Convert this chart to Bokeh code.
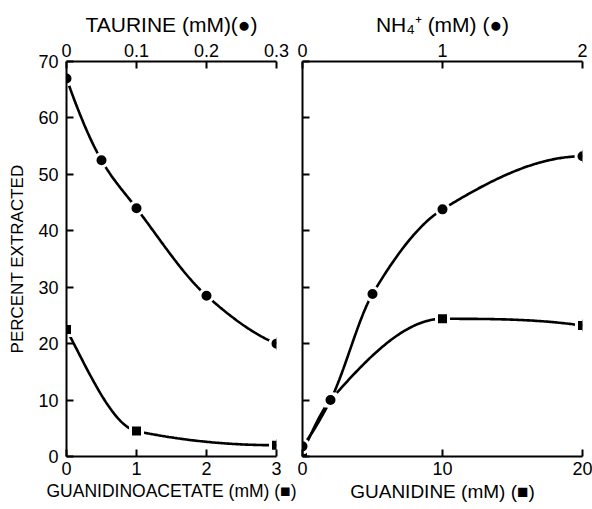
import numpy as np
from bokeh.plotting import figure
from bokeh.models import Range1d, LinearAxis, FixedTicker, PrintfTickFormatter, CustomJSTickFormatter
from bokeh.layouts import row
from bokeh.embed import file_html
from bokeh.resources import INLINE

# ---------------- data ----------------
# Left panel: taurine (top axis, circles) and guanidinoacetate (bottom axis, squares)
taurine_mM = [0, 0.05, 0.1, 0.2, 0.3]
taurine_pct = [67, 52.5, 44, 28.5, 20]
gaa_mM = [0, 1, 3]
gaa_pct = [22.5, 4.5, 2]

# Right panel: NH4+ (top axis, circles) and guanidine (bottom axis, squares)
nh4_mM = [0, 0.2, 0.5, 1, 2]
nh4_pct = [1.8, 10, 28.8, 43.8, 53.2]
guan_mM = [0, 2, 10, 20]
guan_pct = [0.8, 10, 24.4, 23.2]

y_ticks = [0, 10, 20, 30, 40, 50, 60, 70]
left_bottom_ticks = [0, 1, 2, 3]
left_top_ticks = [0, 0.1, 0.2, 0.3]
right_bottom_ticks = [0, 10, 20]
right_top_ticks = [0, 1, 2]

FONT = "Liberation Sans"


def pchip(x, y, n=200):
    """Smooth monotone curve through the data points (for drawing the fitted line)."""
    x = np.asarray(x, float)
    y = np.asarray(y, float)
    h = np.diff(x)
    d = np.diff(y) / h
    m = np.zeros_like(x)
    for k in range(1, len(x) - 1):
        if d[k - 1] * d[k] > 0:
            w1 = 2 * h[k] + h[k - 1]
            w2 = h[k] + 2 * h[k - 1]
            m[k] = (w1 + w2) / (w1 / d[k - 1] + w2 / d[k])

    def end(h0, h1, d0, d1):
        s = ((2 * h0 + h1) * d0 - h0 * d1) / (h0 + h1)
        if np.sign(s) != np.sign(d0):
            s = 0.0
        elif np.sign(d0) != np.sign(d1) and abs(s) > abs(3 * d0):
            s = 3 * d0
        return s

    if len(x) > 2:
        m[0] = end(h[0], h[1], d[0], d[1])
        m[-1] = end(h[-1], h[-2], d[-1], d[-2])
    else:
        m[:] = d[0]
    xs = np.linspace(x[0], x[-1], n)
    idx = np.clip(np.searchsorted(x, xs, side="right") - 1, 0, len(h) - 1)
    t = (xs - x[idx]) / h[idx]
    h00 = 2 * t**3 - 3 * t**2 + 1
    h10 = t**3 - 2 * t**2 + t
    h01 = -2 * t**3 + 3 * t**2
    h11 = t**3 - t**2
    ys = h00 * y[idx] + h10 * h[idx] * m[idx] + h01 * y[idx + 1] + h11 * h[idx] * m[idx + 1]
    return xs, ys


def style_axis(ax, ticks, title_size="18px", show_labels=True):
    ax.ticker = FixedTicker(ticks=ticks)
    if show_labels:
        ax.formatter = PrintfTickFormatter(format="%g")
        ax.major_label_standoff = 6
    else:
        ax.formatter = CustomJSTickFormatter(code="return ''")
        ax.major_label_standoff = 0
    ax.axis_line_width = 2
    ax.axis_line_color = "black"
    ax.major_tick_line_width = 2
    ax.major_tick_line_color = "black"
    ax.major_tick_in = 7
    ax.major_tick_out = 0
    ax.minor_tick_line_color = None
    ax.major_label_text_font = FONT
    ax.major_label_text_font_size = "18px"
    ax.major_label_text_color = "black"
    ax.axis_label_text_font = FONT
    ax.axis_label_text_font_size = title_size
    ax.axis_label_text_font_style = "normal"
    ax.axis_label_text_color = "black"
    ax.axis_label_standoff = 4


H = 508


def make_panel(width, x_end, top_end, xb_ticks, xt_ticks, xb_label, xt_label,
               show_y_labels, border_left, border_right, bottom_title_size):
    p = figure(width=width, height=H,
               x_range=Range1d(0, x_end), y_range=Range1d(0, 70),
               output_backend="svg", toolbar_location=None,
               min_border_left=border_left, min_border_right=border_right,
               min_border_top=61, min_border_bottom=H - 456,
               outline_line_color=None, background_fill_color="white",
               border_fill_color="white")
    p.xgrid.visible = False
    p.ygrid.visible = False
    p.extra_x_ranges = {"top": Range1d(0, top_end)}
    style_axis(p.xaxis[0], xb_ticks, title_size=bottom_title_size)
    p.xaxis[0].axis_label = xb_label
    p.xaxis[0].major_label_standoff = 5
    p.xaxis[0].axis_label_standoff = 3
    style_axis(p.yaxis[0], y_ticks, show_labels=show_y_labels)
    top = LinearAxis(x_range_name="top", axis_label=xt_label)
    style_axis(top, xt_ticks, title_size="21px")
    top.major_label_standoff = 5
    top.axis_label_standoff = 5
    p.add_layout(top, "above")
    return p


p1 = make_panel(296, 3, 0.3, left_bottom_ticks, left_top_ticks,
                "GUANIDINOACETATE (mM) (\u25a0)", "TAURINE (mM)(\u25cf)",
                True, 66, 20, "17.5px")
p1.yaxis[0].axis_label = "PERCENT EXTRACTED"
p1.yaxis[0].axis_label_text_font_size = "17px"
p1.yaxis[0].major_label_standoff = 8
p1.yaxis[0].axis_label_standoff = 8

p2 = make_panel(296, 20, 2, right_bottom_ticks, right_top_ticks,
                "GUANIDINE (mM) (\u25a0)", "NH\u2084\u207a (mM) (\u25cf)",
                False, 6, 10, "19px")

LW = 2.6

# left panel curves
xs, ys = pchip(taurine_mM, taurine_pct)
p1.line(xs, ys, x_range_name="top", line_width=LW, line_color="black")
xs, ys = pchip(gaa_mM, gaa_pct)
p1.line(xs, ys, line_width=LW, line_color="black")
p1.scatter(gaa_mM, gaa_pct, marker="square", size=12, fill_color="black",
           line_color="white", line_width=3)
p1.scatter(taurine_mM, taurine_pct, x_range_name="top", marker="circle", size=13,
           fill_color="black", line_color="white", line_width=3)

# right panel curves
xs, ys = pchip(nh4_mM, nh4_pct)
p2.line(xs, ys, x_range_name="top", line_width=LW, line_color="black")
xs, ys = pchip(guan_mM, guan_pct)
p2.line(xs, ys, line_width=LW, line_color="black")
p2.scatter(guan_mM, guan_pct, marker="square", size=12, fill_color="black",
           line_color="white", line_width=3)
p2.scatter(nh4_mM, nh4_pct, x_range_name="top", marker="circle", size=13,
           fill_color="black", line_color="white", line_width=3)

layout = row(p1, p2, spacing=0)
open("out.html", "w").write(file_html(layout, INLINE))
